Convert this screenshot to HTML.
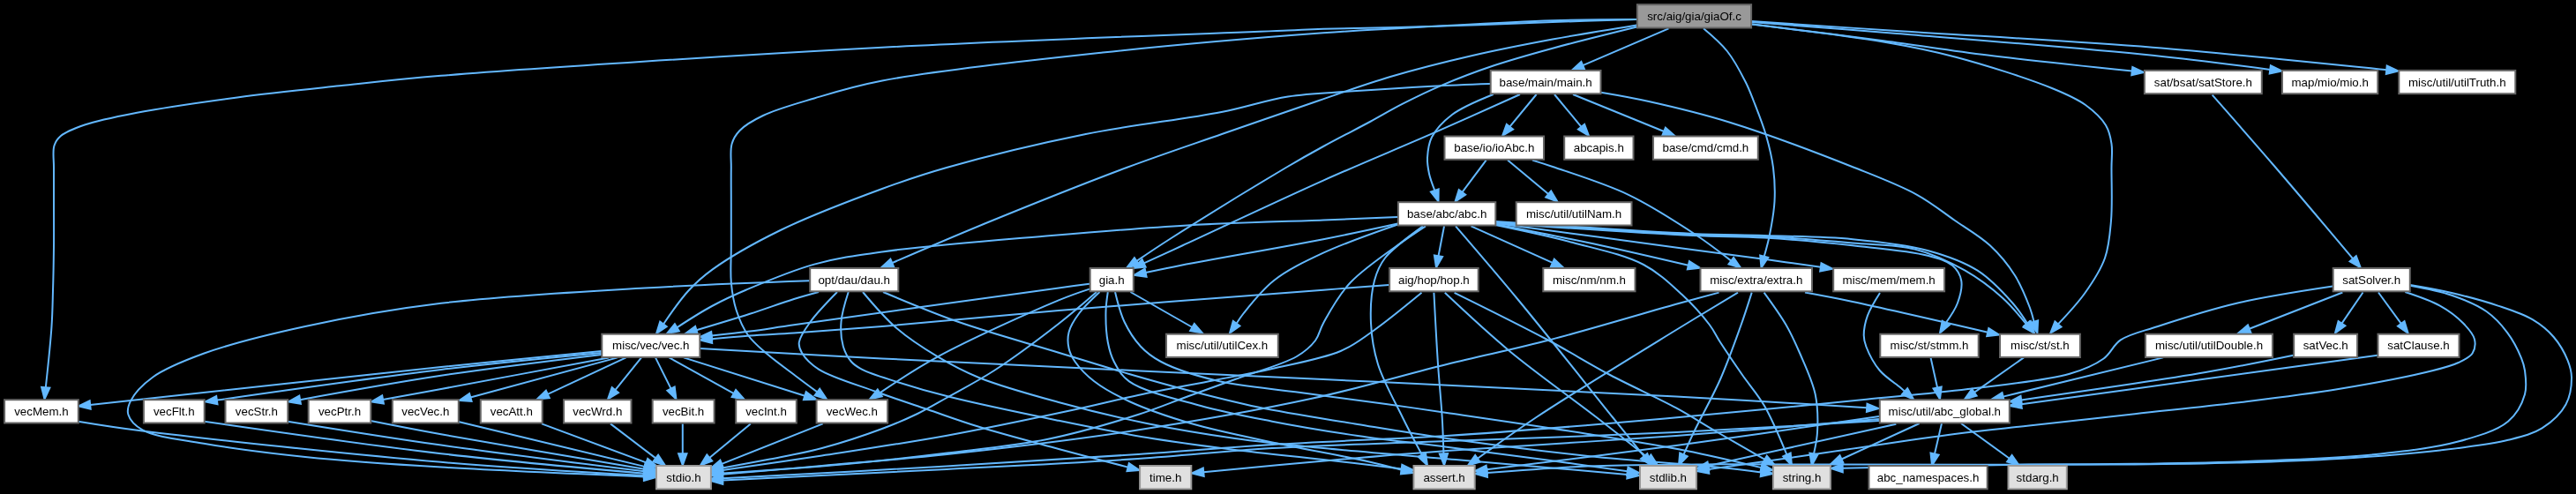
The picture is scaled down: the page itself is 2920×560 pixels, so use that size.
<!DOCTYPE html>
<html><head><meta charset="utf-8"><title>giaOf.c include graph</title>
<style>
html,body{margin:0;padding:0;background:#000;}
body{width:2920px;height:560px;overflow:hidden;}
svg{display:block;will-change:transform;}
text{font-family:"Liberation Sans",sans-serif;font-size:13.33px;fill:#000;text-anchor:middle;}
.e path{fill:none;stroke:#63b8ff;stroke-width:2;}
.e polygon{fill:#63b8ff;stroke:#63b8ff;stroke-width:2;}
.n rect{fill:#fff;stroke:#666;stroke-width:2;}
.s rect{fill:#e0e0e0;stroke:#999;stroke-width:2;}
.r rect{fill:#999;stroke:#666;stroke-width:2;}
</style></head><body>
<svg width="2920" height="560" viewBox="0 0 2920 560">
<rect width="2920" height="560" fill="#000"/>
<g class="e">
<!-- G-vecMem --><path d="M1855.4,22.0C1855.4,22.0 1794.4,23.8 1760.0,25.0C1719.6,26.4 1671.7,28.5 1628.0,29.8C1585.0,31.1 1530.6,31.7 1500.0,32.7C1482.9,33.3 1480.6,33.5 1460.0,34.4C1390.2,37.4 1156.5,45.5 1000.0,53.8C836.8,62.5 608.0,76.9 500.0,85.8C448.1,90.1 423.4,93.2 385.0,97.3C346.4,101.4 307.5,105.3 269.0,110.4C230.5,115.5 185.7,121.9 154.0,128.0C131.3,132.4 111.5,136.2 96.0,141.5C85.1,145.3 74.8,149.0 69.0,154.0C65.1,157.3 63.0,160.3 61.5,165.0C59.4,171.4 61.1,180.7 61.0,190.0C60.9,201.8 61.0,215.9 61.0,230.0C61.0,245.7 61.2,263.3 61.0,280.0C60.8,296.7 60.5,314.3 60.0,330.0C59.6,344.1 59.5,354.9 58.5,370.0C57.2,390.0 51.8,439.3 51.8,439.3"/><polygon points="50.5,452.5 47.1,438.8 56.4,439.7"/>
<!-- G-vecWec --><path d="M1855.4,22.0C1855.4,22.0 1794.4,22.2 1760.0,23.3C1719.6,24.6 1671.7,27.4 1628.0,29.8C1585.0,32.1 1549.7,33.6 1500.0,37.3C1430.5,42.4 1333.2,50.6 1250.0,59.6C1166.6,68.6 1059.2,80.1 1000.0,91.5C966.7,97.9 946.7,104.4 923.0,111.5C902.2,117.7 880.2,123.7 865.0,131.0C854.1,136.2 844.6,141.7 838.5,148.0C834.0,152.7 831.3,157.0 829.6,163.0C827.4,170.5 828.9,180.1 828.8,190.0C828.6,202.0 828.8,215.9 828.8,230.0C828.8,245.7 828.8,264.3 828.8,280.0C828.8,294.1 827.7,307.5 828.8,320.0C829.8,331.2 831.4,341.5 834.6,351.5C837.8,361.5 842.1,371.7 848.0,380.0C853.7,388.1 860.9,393.7 869.0,400.8C879.0,409.5 893.6,419.8 904.0,427.7C912.3,434.0 926.4,444.4 926.4,444.4"/><polygon points="937.0,452.4 923.6,448.2 929.2,440.7"/>
<!-- G-dau --><path d="M1855.4,28.4C1855.4,28.4 1791.4,38.7 1760.0,44.5C1729.3,50.2 1699.4,56.0 1669.0,63.0C1638.1,70.1 1605.8,78.2 1576.0,87.0C1547.9,95.3 1524.0,104.1 1495.0,114.0C1461.1,125.5 1421.5,139.3 1385.0,152.0C1348.8,164.6 1316.5,175.3 1277.0,190.0C1228.3,208.2 1162.9,234.4 1115.0,254.0C1076.5,269.8 1011.2,298.1 1011.2,298.1"/><polygon points="999.0,303.3 1009.4,293.8 1013.1,302.4"/>
<!-- G-gia --><path d="M1855.4,30.5C1855.4,30.5 1789.0,46.8 1760.0,54.7C1735.5,61.4 1714.2,67.3 1692.7,74.5C1672.5,81.3 1652.5,88.9 1634.5,96.6C1618.5,103.4 1604.0,110.5 1590.0,117.7C1577.0,124.3 1566.5,130.7 1553.0,138.0C1536.9,146.6 1516.6,156.9 1500.0,166.0C1485.0,174.2 1475.5,179.5 1457.7,190.0C1426.1,208.7 1358.2,250.5 1327.6,270.0C1310.6,280.8 1288.5,295.9 1288.5,295.9"/><polygon points="1277.4,303.3 1285.9,292.1 1291.1,299.8"/>
<!-- G-main --><path d="M1891.5,32.3L1794.2,74.2"/><polygon points="1782.0,79.5 1792.4,69.9 1796.1,78.5"/>
<!-- G-extra --><path d="M1931.0,32.3C1931.0,32.3 1950.0,48.2 1957.8,58.0C1966.0,68.3 1973.4,82.5 1978.7,93.0C1982.8,101.0 1984.7,106.6 1988.0,115.0C1992.3,126.1 1998.3,141.0 2002.0,153.8C2005.5,166.0 2008.4,177.7 2010.0,190.0C2011.6,202.6 2012.2,215.8 2011.5,228.5C2010.8,241.1 2008.2,254.9 2006.0,266.0C2004.2,275.1 1999.8,290.6 1999.8,290.6"/><polygon points="1996.5,303.5 1995.2,289.5 2004.3,291.8"/>
<!-- G-st --><path d="M1985.0,27.5C1985.0,27.5 2092.6,40.2 2135.0,47.5C2166.5,52.9 2187.9,57.0 2217.0,64.7C2251.0,73.7 2299.3,89.1 2326.0,100.0C2342.2,106.6 2353.4,111.4 2364.0,119.0C2373.3,125.7 2382.1,133.9 2387.0,142.0C2391.0,148.7 2392.4,155.5 2393.5,163.0C2394.8,171.3 2393.5,179.2 2393.5,190.0C2393.4,206.1 2394.6,231.8 2393.0,250.0C2391.7,265.4 2390.8,279.0 2386.0,292.5C2381.1,306.4 2372.3,319.6 2363.5,332.0C2354.6,344.6 2333.0,367.4 2333.0,367.4"/><polygon points="2324.3,377.5 2329.4,364.4 2336.5,370.5"/>
<!-- G-satStore --><path d="M1985.0,27.3C1985.0,27.3 2088.0,40.0 2135.0,46.2C2176.7,51.7 2210.4,57.2 2253.0,62.5C2303.1,68.7 2416.8,80.5 2416.8,80.5"/><polygon points="2430.0,82.0 2416.3,85.2 2417.3,75.9"/>
<!-- G-mio --><path d="M1985.0,25.0C1985.0,25.0 2087.3,32.8 2150.0,38.0C2233.1,44.8 2361.9,54.7 2440.0,62.8C2493.0,68.3 2573.3,78.9 2573.3,78.9"/><polygon points="2586.5,80.5 2572.7,83.5 2573.9,74.3"/>
<!-- G-utilTruth --><path d="M1985.0,24.0C1985.0,24.0 2087.3,30.9 2150.0,35.0C2233.1,40.5 2345.5,46.1 2440.0,53.7C2530.4,61.0 2705.3,79.2 2705.3,79.2"/><polygon points="2718.5,80.5 2704.8,83.9 2705.7,74.6"/>
<!-- M-ioAbc --><path d="M1741.6,107.0L1711.4,143.7"/><polygon points="1703.0,154.0 1707.8,140.8 1715.1,146.7"/>
<!-- M-abcapis --><path d="M1762.0,107.0L1792.5,143.8"/><polygon points="1801.0,154.0 1788.9,146.7 1796.1,140.8"/>
<!-- M-cmd --><path d="M1783.0,107.0L1886.2,149.0"/><polygon points="1898.5,154.0 1884.4,153.3 1887.9,144.7"/>
<!-- M-abc --><path d="M1692.7,107.0C1692.7,107.0 1658.2,120.8 1646.0,130.0C1636.1,137.5 1627.6,146.6 1623.0,155.5C1619.2,163.0 1618.4,171.5 1618.0,178.8C1617.7,185.2 1618.7,190.9 1620.0,197.0C1621.4,203.3 1626.3,215.9 1626.3,215.9"/><polygon points="1630.5,228.5 1621.9,217.4 1630.7,214.4"/>
<!-- M-gia --><path d="M1723.0,107.0C1723.0,107.0 1661.7,134.7 1627.5,149.7C1588.1,167.0 1544.8,184.6 1500.0,204.6C1449.6,227.1 1376.5,261.7 1340.0,278.5C1321.0,287.3 1296.7,298.4 1296.7,298.4"/><polygon points="1284.6,304.0 1294.7,294.2 1298.6,302.7"/>
<!-- M-vec --><path d="M1689.0,95.0C1689.0,95.0 1646.9,96.5 1623.0,97.7C1594.6,99.2 1558.8,101.5 1530.0,103.6C1505.0,105.4 1483.6,105.7 1460.0,109.4C1435.2,113.3 1414.3,121.1 1384.6,127.0C1342.5,135.3 1282.2,141.6 1230.8,152.0C1178.3,162.6 1115.4,177.9 1073.0,190.0C1043.8,198.3 1026.9,204.1 1000.0,214.0C965.7,226.6 918.7,244.3 884.6,261.0C855.8,275.1 826.4,291.9 807.7,305.4C795.6,314.1 788.8,320.4 780.0,330.0C770.1,340.8 752.0,367.5 752.0,367.5"/><polygon points="744.0,378.2 748.2,364.7 755.7,370.3"/>
<!-- M-st --><path d="M1814.7,104.7C1814.7,104.7 1848.7,110.4 1869.0,115.0C1895.5,120.9 1926.6,128.1 1960.0,138.5C2002.4,151.6 2063.0,174.5 2102.0,190.0C2129.9,201.1 2152.7,209.6 2173.0,220.8C2189.6,229.9 2202.0,240.3 2216.0,250.0C2229.6,259.4 2244.3,267.6 2255.8,278.3C2266.8,288.5 2276.4,300.2 2284.0,312.3C2291.3,323.9 2297.3,339.2 2301.0,349.0C2303.3,355.2 2305.6,364.7 2305.6,364.7"/><polygon points="2309.4,377.5 2301.2,366.1 2310.1,363.4"/>
<!-- I-abc --><path d="M1684.6,181.6L1657.5,217.9"/><polygon points="1649.5,228.5 1653.7,215.1 1661.2,220.7"/>
<!-- I-utilNam --><path d="M1709.0,181.6L1755.2,220.0"/><polygon points="1765.4,228.5 1752.2,223.6 1758.2,216.4"/>
<!-- I-extra --><path d="M1737.0,181.6C1737.0,181.6 1749.9,185.5 1760.0,189.0C1779.6,195.8 1818.8,207.8 1846.0,220.8C1872.7,233.6 1900.9,252.0 1922.0,266.0C1937.8,276.5 1962.3,295.6 1962.3,295.6"/><polygon points="1973.0,303.5 1959.5,299.4 1965.1,291.9"/>
<!-- A-hop --><path d="M1637.0,256.4L1630.5,290.2"/><polygon points="1628.0,303.3 1625.9,289.4 1635.1,291.1"/>
<!-- A-nm --><path d="M1667.5,256.4L1759.9,297.9"/><polygon points="1772.0,303.3 1758.0,302.1 1761.8,293.6"/>
<!-- A-extra --><path d="M1695.0,254.0C1695.0,254.0 1775.9,269.9 1813.8,278.0C1848.6,285.5 1913.8,300.8 1913.8,300.8"/><polygon points="1926.8,303.7 1912.8,305.3 1914.9,296.2"/>
<!-- A-mem --><path d="M1695.0,253.0C1695.0,253.0 1850.4,273.9 1906.7,281.4C1944.1,286.4 1971.8,289.9 2000.0,293.8C2023.3,297.0 2063.8,302.8 2063.8,302.8"/><polygon points="2077.0,304.7 2063.2,307.5 2064.5,298.2"/>
<!-- A-st --><path d="M1695.0,251.0C1695.0,251.0 1862.9,262.6 1919.0,265.0C1952.7,266.5 1971.6,266.1 2000.0,267.0C2031.6,268.1 2068.1,268.1 2100.0,271.2C2129.6,274.0 2159.9,277.2 2185.0,284.0C2206.2,289.8 2225.2,296.3 2241.6,306.7C2257.0,316.5 2271.3,332.2 2281.3,343.5C2288.6,351.7 2298.1,366.7 2298.1,366.7"/><polygon points="2305.9,377.5 2294.3,369.5 2301.9,364.0"/>
<!-- A-stmm --><path d="M1695.0,253.0C1695.0,253.0 1862.9,264.4 1919.0,267.0C1952.7,268.6 1971.6,267.8 2000.0,269.5C2031.6,271.4 2068.1,274.8 2100.0,278.3C2129.5,281.6 2164.5,284.3 2185.0,289.7C2197.2,292.9 2206.8,295.4 2213.3,301.0C2218.5,305.5 2222.0,311.5 2223.2,318.0C2224.6,325.4 2221.9,335.5 2219.0,343.5C2216.1,351.5 2205.7,366.0 2205.7,366.0"/><polygon points="2199.0,377.5 2201.7,363.7 2209.8,368.4"/>
<!-- A-vec --><path d="M1584.4,246.0C1584.4,246.0 1532.3,248.2 1500.0,249.5C1456.3,251.2 1397.3,252.5 1346.0,255.4C1294.6,258.3 1246.1,262.4 1192.0,267.0C1131.5,272.2 1049.5,278.5 1000.0,285.4C968.5,289.8 948.4,292.6 923.0,299.6C897.0,306.8 867.2,319.5 846.0,328.5C830.6,335.0 819.9,340.0 807.0,347.0C793.6,354.2 767.3,371.3 767.3,371.3"/><polygon points="756.0,378.2 764.9,367.3 769.8,375.2"/>
<!-- A-gia --><path d="M1584.4,253.5C1584.4,253.5 1532.6,264.8 1500.0,271.2C1455.2,280.0 1375.9,293.5 1340.0,300.5C1321.7,304.1 1298.6,309.1 1298.6,309.1"/><polygon points="1285.6,311.8 1297.7,304.5 1299.6,313.7"/>
<!-- A-utilCex --><path d="M1584.4,254.5C1584.4,254.5 1524.9,275.1 1500.0,286.7C1479.0,296.5 1459.6,305.7 1444.0,318.0C1430.1,329.0 1416.6,346.5 1409.4,355.5C1405.7,360.2 1401.6,366.7 1401.6,366.7"/><polygon points="1394.0,377.6 1397.8,364.0 1405.4,369.4"/>
<!-- A-stdio --><path d="M1616.0,256.4C1616.0,256.4 1551.2,298.7 1531.0,320.0C1516.4,335.4 1506.9,354.0 1500.0,366.4C1495.7,374.1 1495.5,380.0 1491.0,386.0C1485.9,392.7 1479.7,398.3 1470.0,404.0C1454.0,413.4 1422.0,421.9 1400.0,430.0C1380.5,437.1 1363.1,443.3 1344.7,450.0C1326.4,456.7 1311.3,463.2 1290.0,470.0C1261.2,479.2 1222.2,490.8 1186.8,498.0C1150.1,505.4 1111.3,508.8 1073.5,513.5C1035.7,518.2 999.9,522.3 960.0,526.0C915.6,530.1 819.1,536.6 819.1,536.6"/><polygon points="805.8,537.6 818.7,531.9 819.4,541.3"/>
<!-- A-assert --><path d="M1613.0,256.4C1613.0,256.4 1579.2,280.5 1570.0,292.5C1563.4,301.0 1560.7,307.9 1558.0,318.0C1554.4,331.3 1553.3,350.5 1554.0,366.4C1554.7,382.1 1557.0,396.8 1562.0,413.0C1568.0,432.1 1580.9,454.8 1589.8,473.0C1597.4,488.5 1611.9,515.7 1611.9,515.7"/><polygon points="1618.0,527.5 1607.7,517.8 1616.0,513.5"/>
<!-- A-stdlib --><path d="M1650.0,256.4C1650.0,256.4 1695.1,308.7 1721.0,340.0C1753.3,379.0 1801.9,440.6 1828.0,473.0C1843.1,491.7 1863.6,517.2 1863.6,517.2"/><polygon points="1872.0,527.5 1860.0,520.1 1867.3,514.2"/>
<!-- A-string --><path d="M1695.0,255.0C1695.0,255.0 1754.5,267.3 1783.0,275.0C1810.5,282.4 1841.2,288.6 1863.0,300.0C1880.8,309.3 1893.8,322.1 1906.7,334.0C1918.4,344.9 1930.0,357.8 1937.7,368.0C1943.2,375.3 1945.1,380.4 1950.0,388.0C1956.8,398.5 1966.6,412.9 1975.0,425.0C1983.3,436.9 1992.2,446.6 2000.0,460.0C2009.3,476.0 2025.4,515.4 2025.4,515.4"/><polygon points="2031.0,527.5 2021.2,517.4 2029.7,513.5"/>
<!-- H-vec --><path d="M1574.5,323.0C1574.5,323.0 1533.1,326.1 1500.0,328.7C1433.5,333.8 1289.9,344.5 1200.0,352.0C1126.6,358.2 1055.2,365.4 1000.0,370.0C961.0,373.2 927.6,375.6 900.0,377.5C880.5,378.8 866.1,379.3 850.0,380.5C835.1,381.6 806.7,384.3 806.7,384.3"/><polygon points="793.5,385.5 806.3,379.7 807.2,389.0"/>
<!-- H-stdio --><path d="M1611.5,331.8C1611.5,331.8 1572.6,363.9 1555.7,375.7C1542.6,384.8 1534.5,391.7 1519.6,398.0C1499.1,406.7 1466.8,412.3 1442.0,418.0C1419.4,423.2 1400.2,426.4 1377.0,431.0C1350.1,436.3 1317.9,442.1 1290.0,448.0C1264.0,453.5 1244.0,458.8 1215.0,465.0C1175.3,473.5 1120.8,485.1 1073.5,493.7C1026.3,502.3 976.3,509.6 931.7,516.4C892.0,522.5 819.0,532.9 819.0,532.9"/><polygon points="805.8,534.8 818.3,528.3 819.6,537.5"/>
<!-- H-assert --><path d="M1625.4,331.8C1625.4,331.8 1628.3,388.0 1630.0,413.0C1631.5,434.5 1633.6,454.9 1634.7,473.0C1635.6,488.0 1636.4,514.2 1636.4,514.2"/><polygon points="1637.0,527.5 1631.8,514.4 1641.1,514.0"/>
<!-- H-stdlib --><path d="M1637.8,331.8C1637.8,331.8 1683.9,375.3 1710.5,397.4C1740.5,422.3 1780.9,450.8 1809.6,473.0C1831.9,490.2 1868.5,519.3 1868.5,519.3"/><polygon points="1879.0,527.5 1865.7,523.0 1871.4,515.6"/>
<!-- H-string --><path d="M1648.6,331.8C1648.6,331.8 1722.4,368.2 1753.9,385.0C1780.1,399.0 1800.8,412.2 1825.0,425.0C1849.5,438.0 1878.1,450.5 1900.0,462.4C1917.6,472.0 1930.6,480.6 1946.8,490.0C1964.1,500.0 2000.5,520.9 2000.5,520.9"/><polygon points="2012.0,527.5 1998.1,524.9 2002.8,516.8"/>
<!-- Gi-vec --><path d="M1235.0,321.8C1235.0,321.8 1217.4,324.0 1200.0,326.4C1149.1,333.3 958.0,360.0 900.0,368.3C876.3,371.7 866.1,373.5 850.0,375.6C835.1,377.5 806.7,380.5 806.7,380.5"/><polygon points="793.5,382.0 806.2,375.9 807.2,385.1"/>
<!-- Gi-vecWec --><path d="M1235.0,327.6C1235.0,327.6 1215.3,334.0 1200.0,340.4C1169.1,353.2 1099.9,384.4 1063.0,404.4C1036.6,418.7 997.3,445.4 997.3,445.4"/><polygon points="986.0,452.4 994.8,441.4 999.8,449.3"/>
<!-- Gi-stdio --><path d="M1243.0,331.0C1243.0,331.0 1216.5,354.1 1200.0,367.0C1179.1,383.3 1149.9,405.2 1127.0,420.0C1108.0,432.3 1088.8,442.1 1073.0,451.0C1060.7,457.9 1051.7,463.4 1040.0,469.0C1027.4,475.1 1015.3,480.3 1000.0,486.0C980.4,493.3 954.0,502.1 931.7,508.0C910.8,513.6 889.6,517.1 870.0,521.0C852.2,524.5 818.9,530.6 818.9,530.6"/><polygon points="805.8,533.0 818.0,526.0 819.7,535.1"/>
<!-- Gi-assert --><path d="M1246.5,331.0C1246.5,331.0 1229.0,347.3 1223.0,355.5C1217.9,362.4 1213.4,369.4 1211.6,376.4C1210.0,382.6 1210.3,389.3 1211.6,395.0C1212.8,400.4 1215.0,404.8 1218.6,410.0C1223.5,417.0 1231.2,425.2 1240.0,432.0C1250.8,440.4 1264.4,447.8 1280.0,455.0C1299.7,464.1 1324.4,472.5 1350.0,480.0C1380.1,488.8 1416.6,495.8 1450.0,503.0C1483.3,510.2 1524.4,517.2 1550.0,523.0C1566.1,526.6 1589.1,532.8 1589.1,532.8"/><polygon points="1602.0,536.0 1588.0,537.3 1590.2,528.2"/>
<!-- Gi-stdlib --><path d="M1255.8,331.0C1255.8,331.0 1253.7,344.8 1253.5,353.0C1253.3,363.3 1253.9,377.8 1255.8,388.0C1257.4,396.3 1259.1,402.9 1262.8,410.0C1266.9,417.8 1270.7,425.7 1280.0,432.4C1296.2,444.0 1333.8,452.4 1361.0,460.0C1387.8,467.5 1413.7,472.2 1442.0,477.7C1472.8,483.7 1506.3,489.2 1539.0,494.0C1572.3,498.9 1605.6,502.4 1640.0,506.8C1675.9,511.4 1714.7,516.3 1750.0,521.0C1782.8,525.4 1844.8,534.2 1844.8,534.2"/><polygon points="1858.0,536.0 1844.2,538.8 1845.5,529.5"/>
<!-- Gi-string --><path d="M1264.0,331.0C1264.0,331.0 1269.6,354.4 1274.5,364.8C1279.3,374.9 1285.7,385.0 1293.0,392.7C1299.7,399.8 1306.0,404.7 1316.0,410.0C1331.0,418.0 1354.0,425.4 1377.0,431.0C1405.3,437.9 1441.7,440.5 1474.0,445.0C1506.3,449.5 1541.4,453.9 1571.0,458.0C1596.0,461.5 1612.2,463.9 1640.0,468.0C1682.3,474.2 1751.5,484.2 1800.0,492.0C1840.5,498.5 1876.9,504.2 1911.5,511.0C1941.8,517.0 1996.5,530.1 1996.5,530.1"/><polygon points="2009.5,533.0 1995.5,534.6 1997.5,525.5"/>
<!-- Gi-utilCex --><path d="M1281.4,331.0L1351.5,371.0"/><polygon points="1363.0,377.6 1349.1,375.1 1353.8,366.9"/>
<!-- D-stdio --><path d="M917.5,318.3C917.5,318.3 796.3,322.6 730.8,326.5C657.9,330.8 569.0,335.4 500.0,343.8C443.3,350.7 393.4,359.7 346.0,370.0C304.6,379.0 262.2,389.4 230.8,400.8C207.8,409.2 187.6,417.1 173.0,427.7C162.0,435.7 152.1,446.3 148.0,454.6C145.3,460.0 143.9,465.1 145.4,470.0C147.2,476.1 153.2,482.6 161.5,487.3C175.8,495.5 204.7,498.1 230.8,502.7C264.2,508.6 304.8,513.7 346.0,518.0C393.5,522.9 443.5,526.2 500.0,529.6C569.0,533.8 730.2,540.4 730.2,540.4"/><polygon points="743.5,541.0 730.0,545.0 730.4,535.7"/>
<!-- D-vec --><path d="M928.0,331.0C928.0,331.0 910.6,335.7 900.0,339.0C885.7,343.4 867.5,350.2 850.0,355.8C830.8,362.0 789.4,374.3 789.4,374.3"/><polygon points="776.7,378.2 788.1,369.8 790.8,378.8"/>
<!-- D-time --><path d="M949.0,331.0C949.0,331.0 926.2,354.2 918.6,364.8C912.8,372.9 906.6,381.4 905.8,388.0C905.2,392.5 906.6,395.9 909.0,400.0C912.5,406.0 919.0,412.8 928.0,418.6C942.6,428.0 971.9,436.2 993.0,444.0C1012.8,451.3 1031.6,457.4 1051.0,464.0C1070.4,470.6 1087.8,477.1 1109.5,483.8C1136.3,492.1 1170.9,501.1 1200.0,509.0C1227.1,516.3 1278.6,529.6 1278.6,529.6"/><polygon points="1291.5,533.0 1277.5,534.1 1279.8,525.1"/>
<!-- D-assert --><path d="M961.7,331.0C961.7,331.0 954.3,354.0 953.5,364.8C952.7,374.5 953.5,384.7 955.8,392.7C957.8,399.4 961.1,405.5 965.0,410.0C968.3,413.8 971.5,415.8 976.8,418.6C985.8,423.4 1001.4,427.9 1016.0,432.6C1034.0,438.4 1053.0,444.0 1077.0,450.0C1110.8,458.5 1161.1,468.8 1200.0,476.8C1235.0,484.0 1266.6,490.5 1300.0,496.0C1333.3,501.5 1366.6,505.8 1400.0,510.0C1433.3,514.2 1467.7,517.3 1500.0,521.0C1530.5,524.5 1588.8,531.4 1588.8,531.4"/><polygon points="1602.0,533.0 1588.2,536.1 1589.3,526.8"/>
<!-- D-stdlib --><path d="M978.0,331.0C978.0,331.0 1001.9,359.6 1016.0,371.8C1030.2,384.1 1047.0,394.9 1063.0,404.4C1078.2,413.5 1091.1,420.5 1109.5,428.0C1134.3,438.1 1168.9,447.5 1200.0,456.0C1232.4,464.9 1266.6,473.2 1300.0,480.0C1333.2,486.8 1366.6,492.3 1400.0,497.0C1433.3,501.7 1463.3,504.4 1500.0,508.0C1544.9,512.4 1596.7,516.4 1650.0,521.0C1710.7,526.3 1844.7,537.9 1844.7,537.9"/><polygon points="1858.0,539.0 1844.3,542.5 1845.2,533.2"/>
<!-- D-string --><path d="M1001.0,331.0C1001.0,331.0 1055.4,354.0 1086.0,364.8C1121.0,377.1 1165.4,389.1 1200.0,399.7C1229.0,408.5 1254.7,416.6 1280.0,424.0C1302.7,430.6 1322.1,436.1 1345.0,442.0C1370.5,448.6 1396.7,455.4 1426.0,461.5C1460.4,468.6 1502.4,474.9 1539.0,481.0C1573.6,486.7 1602.4,491.7 1640.0,497.0C1687.2,503.7 1747.5,511.4 1800.0,517.0C1850.8,522.4 1914.3,526.4 1950.0,530.0C1969.9,532.0 1996.3,535.4 1996.3,535.4"/><polygon points="2009.5,537.0 1995.7,540.1 1996.8,530.8"/>
<!-- X-stdio --><path d="M1948.5,331.6C1948.5,331.6 1920.4,339.1 1900.0,344.8C1865.1,354.5 1803.3,373.2 1758.0,385.0C1717.0,395.7 1681.8,402.7 1640.0,413.0C1592.3,424.7 1542.1,439.9 1487.0,451.8C1423.4,465.6 1349.1,478.4 1280.0,489.0C1211.3,499.5 1135.9,508.2 1073.5,515.0C1021.9,520.6 976.3,524.0 931.7,528.0C892.0,531.6 819.0,537.8 819.0,537.8"/><polygon points="805.8,539.0 818.6,533.2 819.5,542.5"/>
<!-- X-assert --><path d="M1970.0,331.6C1970.0,331.6 1928.0,356.8 1900.0,374.0C1857.7,400.0 1782.8,445.6 1741.5,473.0C1714.3,491.1 1674.9,519.8 1674.9,519.8"/><polygon points="1664.0,527.5 1672.2,516.0 1677.6,523.7"/>
<!-- X-stdlib --><path d="M1985.7,331.6C1985.7,331.6 1978.1,355.8 1973.0,370.0C1966.6,387.8 1958.7,410.2 1950.0,430.0C1941.1,450.2 1927.5,474.2 1920.0,490.0C1915.1,500.2 1908.5,515.4 1908.5,515.4"/><polygon points="1903.0,527.5 1904.2,513.5 1912.7,517.3"/>
<!-- X-string --><path d="M1999.6,331.6C1999.6,331.6 2017.4,356.0 2024.4,368.0C2030.7,378.8 2034.9,388.2 2040.0,400.0C2046.0,414.0 2054.4,431.4 2057.7,447.0C2060.7,461.4 2060.7,477.7 2060.0,490.0C2059.5,499.3 2056.0,514.4 2056.0,514.4"/><polygon points="2053.8,527.5 2051.4,513.6 2060.6,515.1"/>
<!-- X-st --><path d="M2046.0,331.6C2046.0,331.6 2077.5,337.3 2100.0,342.0C2138.1,350.0 2253.2,376.7 2253.2,376.7"/><polygon points="2266.2,379.6 2252.2,381.2 2254.3,372.1"/>
<!-- mem-AG --><path d="M2131.0,332.0C2131.0,332.0 2120.1,349.1 2117.0,357.6C2114.3,365.1 2112.7,373.5 2112.7,380.0C2112.7,384.9 2113.5,388.1 2115.4,393.0C2118.3,400.6 2124.3,412.3 2130.8,420.0C2137.2,427.6 2148.9,434.8 2153.8,439.0C2156.2,441.1 2159.1,443.7 2159.1,443.7"/><polygon points="2169.0,452.5 2156.0,447.2 2162.2,440.2"/>
<!-- stmm-AG --><path d="M2188.5,405.4L2196.1,439.5"/><polygon points="2199.0,452.5 2191.5,440.5 2200.7,438.5"/>
<!-- st-AG --><path d="M2294.0,405.4L2237.9,444.9"/><polygon points="2227.0,452.5 2235.2,441.0 2240.6,448.7"/>
<!-- utilDouble-AG --><path d="M2452.0,405.4L2270.6,449.6"/><polygon points="2257.7,452.7 2269.5,445.0 2271.7,454.1"/>
<!-- satVec-AG --><path d="M2599.6,402.7C2599.6,402.7 2539.4,415.2 2500.0,422.0C2443.2,431.8 2291.2,453.4 2291.2,453.4"/><polygon points="2278.0,455.4 2290.5,448.8 2291.8,458.0"/>
<!-- satClause-AG --><path d="M2695.0,402.7C2695.0,402.7 2566.1,420.5 2500.0,429.6C2431.6,439.0 2291.2,458.2 2291.2,458.2"/><polygon points="2278.0,460.0 2290.5,453.6 2291.8,462.8"/>
<!-- satStore-satSolver --><path d="M2507.7,107.7C2507.7,107.7 2554.6,160.9 2579.6,190.0C2607.5,222.4 2667.2,293.4 2667.2,293.4"/><polygon points="2675.8,303.5 2663.6,296.4 2670.8,290.3"/>
<!-- V-vecMem --><path d="M681.8,398.0C681.8,398.0 572.3,408.5 500.0,416.0C393.0,427.1 102.2,459.0 102.2,459.0"/><polygon points="89.0,460.4 101.7,454.3 102.7,463.6"/>
<!-- V-vecFlt --><path d="M681.8,400.0C681.8,400.0 565.6,411.1 500.0,419.0C422.3,428.3 245.9,453.6 245.9,453.6"/><polygon points="232.7,455.4 245.2,449.0 246.5,458.2"/>
<!-- V-vecStr --><path d="M681.8,402.0C681.8,402.0 558.6,417.0 500.0,425.8C444.9,434.1 340.1,453.2 340.1,453.2"/><polygon points="327.0,455.4 339.3,448.6 340.9,457.8"/>
<!-- V-vecPtr --><path d="M690.0,405.4C690.0,405.4 547.0,432.3 500.0,441.0C472.4,446.1 434.1,453.0 434.1,453.0"/><polygon points="421.0,455.4 433.2,448.4 434.9,457.6"/>
<!-- V-vecVec --><path d="M700.0,405.4L533.3,450.5"/><polygon points="520.5,454.0 532.1,446.0 534.6,455.0"/>
<!-- V-vecAtt --><path d="M709.6,405.4L620.8,446.9"/><polygon points="608.8,452.5 618.9,442.6 622.8,451.1"/>
<!-- V-vecWrd --><path d="M727.0,405.4L697.4,442.1"/><polygon points="689.0,452.5 693.7,439.2 701.0,445.1"/>
<!-- V-vecBit --><path d="M743.0,405.4L760.6,440.6"/><polygon points="766.5,452.5 756.4,442.7 764.7,438.5"/>
<!-- V-vecInt --><path d="M758.5,405.4L831.9,446.1"/><polygon points="843.5,452.5 829.6,450.1 834.1,442.0"/>
<!-- V-vecWec --><path d="M775.0,405.4L912.3,448.7"/><polygon points="925.0,452.7 910.9,453.2 913.7,444.2"/>
<!-- V-AG --><path d="M793.0,395.0C793.0,395.0 916.0,402.2 1000.0,406.5C1130.5,413.2 1342.6,422.5 1500.0,430.0C1640.8,436.7 1787.0,443.3 1900.0,449.4C1983.1,453.9 2116.2,462.2 2116.2,462.2"/><polygon points="2129.5,463.0 2115.9,466.9 2116.5,457.6"/>
<!-- vecMem-stdio --><path d="M88.5,477.7C88.5,477.7 128.2,484.3 161.5,488.5C233.0,497.5 397.9,515.1 500.0,523.8C584.0,531.0 730.2,539.1 730.2,539.1"/><polygon points="743.5,540.0 729.9,543.8 730.5,534.5"/>
<!-- vecFlt-stdio --><path d="M231.5,477.7C231.5,477.7 413.8,504.1 500.0,514.2C579.6,523.5 730.3,536.7 730.3,536.7"/><polygon points="743.5,538.0 729.8,541.4 730.7,532.1"/>
<!-- vecStr-stdio --><path d="M326.0,477.7C326.0,477.7 437.9,495.8 500.0,504.6C571.3,514.7 730.3,534.3 730.3,534.3"/><polygon points="743.5,536.0 729.7,538.9 730.9,529.7"/>
<!-- vecPtr-stdio --><path d="M420.0,477.0C420.0,477.0 466.4,486.2 500.0,492.3C556.9,502.6 730.4,531.8 730.4,531.8"/><polygon points="743.5,534.0 729.6,536.4 731.2,527.2"/>
<!-- vecVec-stdio --><path d="M519.5,478.0L730.6,528.9"/><polygon points="743.5,532.0 729.5,533.4 731.7,524.3"/>
<!-- vecAtt-stdio --><path d="M614.0,480.4L732.5,524.4"/><polygon points="745.0,529.0 730.9,528.8 734.2,520.0"/>
<!-- vecWrd-stdio --><path d="M692.0,480.4L743.2,519.4"/><polygon points="753.8,527.5 740.4,523.2 746.1,515.7"/>
<!-- vecBit-stdio --><path d="M773.8,480.4L773.8,514.2"/><polygon points="773.8,527.5 769.1,514.2 778.5,514.2"/>
<!-- vecInt-stdio --><path d="M850.8,480.4L804.2,519.0"/><polygon points="794.0,527.5 801.3,515.4 807.2,522.6"/>
<!-- vecWec-stdio --><path d="M932.7,480.4L818.2,525.9"/><polygon points="805.8,530.8 816.4,521.6 819.9,530.2"/>
<!-- AG-string --><path d="M2175.7,480.0L2087.5,520.5"/><polygon points="2075.4,526.0 2085.5,516.2 2089.4,524.7"/>
<!-- AG-ns --><path d="M2201.0,480.0L2193.0,514.5"/><polygon points="2190.0,527.5 2188.5,513.5 2197.6,515.6"/>
<!-- AG-stdarg --><path d="M2223.0,480.0L2277.8,519.7"/><polygon points="2288.6,527.5 2275.1,523.5 2280.6,515.9"/>
<!-- AG-stdlib --><path d="M2149.3,480.7L1936.5,528.1"/><polygon points="1923.5,531.0 1935.5,523.5 1937.5,532.7"/>
<!-- AG-assert --><path d="M2130.0,472.0C2130.0,472.0 1975.4,494.8 1900.0,505.0C1827.2,514.8 1685.2,532.3 1685.2,532.3"/><polygon points="1672.0,534.0 1684.6,527.7 1685.8,537.0"/>
<!-- AG-time --><path d="M2130.0,475.0C2130.0,475.0 1979.0,488.2 1900.0,494.0C1816.0,500.2 1712.3,505.7 1640.0,511.0C1588.2,514.8 1551.8,518.0 1506.6,522.0C1459.9,526.1 1364.2,535.3 1364.2,535.3"/><polygon points="1351.0,536.5 1363.8,530.6 1364.7,539.9"/>
<!-- AG-stdio --><path d="M2130.0,477.0C2130.0,477.0 1979.0,486.2 1900.0,490.0C1816.0,494.0 1720.8,496.8 1640.0,500.0C1569.5,502.8 1503.6,504.3 1442.0,508.0C1388.0,511.2 1345.2,516.3 1290.0,520.0C1224.1,524.4 1148.2,528.1 1073.0,532.0C991.7,536.2 819.1,544.4 819.1,544.4"/><polygon points="805.8,545.0 818.9,539.7 819.3,549.0"/>
<!-- S-utilDouble --><path d="M2655.4,331.5L2549.7,372.8"/><polygon points="2537.3,377.6 2548.0,368.4 2551.4,377.1"/>
<!-- S-satVec --><path d="M2678.5,331.5L2654.5,366.6"/><polygon points="2647.0,377.6 2650.6,364.0 2658.4,369.3"/>
<!-- S-satClause --><path d="M2696.0,331.5L2721.8,366.9"/><polygon points="2729.6,377.6 2718.0,369.6 2725.5,364.1"/>
<!-- S-stdio --><path d="M2644.2,324.6C2644.2,324.6 2569.7,335.8 2535.4,343.8C2503.9,351.2 2470.2,362.1 2446.0,370.0C2429.2,375.5 2414.5,378.2 2403.8,385.4C2395.3,391.1 2392.9,400.5 2384.6,406.5C2374.5,413.8 2362.7,418.9 2346.0,423.8C2318.2,431.9 2269.3,436.2 2230.8,441.0C2192.4,445.8 2153.9,448.9 2115.4,452.7C2076.9,456.5 2043.7,459.9 2000.0,464.0C1942.5,469.4 1863.0,476.8 1800.0,482.0C1743.7,486.6 1696.2,490.5 1640.0,494.0C1577.5,497.9 1503.6,500.2 1442.0,504.0C1388.0,507.3 1345.2,511.3 1290.0,515.0C1224.1,519.4 1148.2,524.1 1073.0,528.5C991.7,533.2 819.1,542.3 819.1,542.3"/><polygon points="805.8,543.0 818.8,537.6 819.3,546.9"/>
<!-- S-stdlib --><path d="M2726.3,331.0C2726.3,331.0 2754.4,340.2 2765.8,346.6C2775.9,352.2 2785.2,359.3 2792.0,366.3C2797.7,372.1 2803.5,378.5 2805.0,384.7C2806.2,389.9 2805.3,396.2 2802.6,400.5C2799.6,405.2 2793.1,408.0 2786.8,411.0C2778.8,414.8 2770.8,416.8 2758.0,420.0C2733.7,426.2 2687.3,435.0 2650.8,441.0C2613.1,447.2 2573.9,451.8 2535.4,456.5C2497.0,461.2 2458.8,464.9 2420.0,469.2C2380.4,473.6 2336.5,478.4 2300.0,482.5C2269.5,485.9 2247.7,487.9 2215.8,492.0C2173.8,497.4 2117.5,506.2 2070.0,513.0C2024.6,519.5 1936.7,532.1 1936.7,532.1"/><polygon points="1923.5,534.0 1936.0,527.5 1937.3,536.7"/>
<!-- S-string --><path d="M2732.0,323.7C2732.0,323.7 2764.3,329.6 2779.0,334.7C2793.0,339.5 2807.5,345.3 2818.4,353.0C2828.0,359.7 2835.4,368.0 2842.0,376.8C2848.6,385.6 2854.7,397.7 2858.0,405.8C2860.2,411.2 2861.2,414.5 2862.0,420.0C2863.0,427.5 2864.5,438.1 2862.0,447.0C2859.1,457.3 2852.9,469.4 2843.0,477.7C2830.0,488.6 2807.5,494.8 2785.4,500.8C2757.8,508.3 2722.6,511.9 2689.0,515.4C2652.4,519.2 2615.0,520.3 2573.8,522.0C2526.2,523.9 2468.1,525.1 2420.0,525.8C2377.5,526.4 2345.6,525.9 2300.0,526.5C2239.5,527.3 2088.7,530.7 2088.7,530.7"/><polygon points="2075.4,531.0 2088.6,526.1 2088.8,535.4"/>
<!-- S-assert --><path d="M2732.0,323.0C2732.0,323.0 2763.0,328.2 2779.0,332.0C2796.1,336.0 2815.5,341.1 2831.6,346.6C2845.8,351.4 2859.9,355.8 2871.0,362.4C2880.4,368.0 2888.1,374.3 2894.7,382.0C2901.3,389.7 2907.1,400.0 2910.5,408.4C2913.2,415.1 2914.9,420.5 2915.0,427.7C2915.1,436.8 2913.5,449.2 2908.5,458.5C2903.0,468.7 2892.2,478.7 2881.5,485.4C2870.5,492.3 2858.2,495.0 2843.0,498.8C2821.9,504.0 2794.3,507.1 2766.0,510.4C2731.5,514.4 2689.2,517.6 2650.8,520.0C2612.4,522.4 2573.9,523.5 2535.4,524.6C2496.9,525.7 2468.7,526.1 2420.0,526.5C2335.7,527.2 2166.8,526.5 2075.0,526.5C2014.1,526.5 1971.0,526.1 1923.0,526.5C1879.8,526.9 1840.2,526.8 1800.0,528.5C1761.2,530.1 1685.7,536.1 1685.7,536.1"/><polygon points="1672.4,537.0 1685.4,531.5 1686.0,540.8"/>
<!-- A-st2 --><path d="M1695.0,252.0C1695.0,252.0 1862.9,263.6 1919.0,266.0C1952.7,267.5 1971.6,266.6 2000.0,268.0C2031.6,269.6 2069.6,272.8 2100.0,275.5C2125.6,277.7 2148.9,277.0 2170.8,282.6C2191.2,287.8 2210.5,297.0 2227.5,306.7C2243.3,315.7 2257.9,326.9 2270.0,337.8C2280.6,347.3 2297.0,367.6 2297.0,367.6"/><polygon points="2305.9,377.5 2293.5,370.8 2300.4,364.5"/>
</g>
<g class="r"><rect x="1855.9" y="5.2" width="129.2" height="26.3"/><text x="1920.5" y="22.9">src/aig/gia/giaOf.c</text></g>
<g class="n"><rect x="1689.7" y="79.9" width="124.8" height="26.3"/><text x="1752.1" y="97.7">base/main/main.h</text></g>
<g class="n"><rect x="2430.9" y="79.9" width="132.9" height="26.3"/><text x="2497.4" y="97.7">sat/bsat/satStore.h</text></g>
<g class="n"><rect x="2587.0" y="79.9" width="108.3" height="26.3"/><text x="2641.2" y="97.7">map/mio/mio.h</text></g>
<g class="n"><rect x="2719.3" y="79.9" width="132.0" height="26.3"/><text x="2785.3" y="97.7">misc/util/utilTruth.h</text></g>
<g class="n"><rect x="1637.5" y="154.5" width="112.5" height="26.3"/><text x="1693.8" y="172.3">base/io/ioAbc.h</text></g>
<g class="n"><rect x="1773.2" y="154.5" width="78.3" height="26.3"/><text x="1812.3" y="172.3">abcapis.h</text></g>
<g class="n"><rect x="1874.0" y="154.5" width="118.8" height="26.3"/><text x="1933.4" y="172.3">base/cmd/cmd.h</text></g>
<g class="n"><rect x="1584.9" y="229.2" width="110.4" height="26.3"/><text x="1640.1" y="247.0">base/abc/abc.h</text></g>
<g class="n"><rect x="1718.7" y="229.2" width="130.8" height="26.3"/><text x="1784.1" y="247.0">misc/util/utilNam.h</text></g>
<g class="n"><rect x="918.2" y="304.0" width="100.1" height="26.3"/><text x="968.2" y="321.7">opt/dau/dau.h</text></g>
<g class="n"><rect x="1235.7" y="304.0" width="49.1" height="26.3"/><text x="1260.2" y="321.7">gia.h</text></g>
<g class="n"><rect x="1575.1" y="304.0" width="100.6" height="26.3"/><text x="1625.4" y="321.7">aig/hop/hop.h</text></g>
<g class="n"><rect x="1749.3" y="304.0" width="104.2" height="26.3"/><text x="1801.4" y="321.7">misc/nm/nm.h</text></g>
<g class="n"><rect x="1927.5" y="304.0" width="126.5" height="26.3"/><text x="1990.8" y="321.7">misc/extra/extra.h</text></g>
<g class="n"><rect x="2078.2" y="304.0" width="125.9" height="26.3"/><text x="2141.2" y="321.7">misc/mem/mem.h</text></g>
<g class="n"><rect x="2644.7" y="304.0" width="87.1" height="26.3"/><text x="2688.2" y="321.7">satSolver.h</text></g>
<g class="n"><rect x="682.3" y="378.7" width="111.0" height="26.3"/><text x="737.8" y="396.4">misc/vec/vec.h</text></g>
<g class="n"><rect x="1322.0" y="378.7" width="126.8" height="26.3"/><text x="1385.4" y="396.4">misc/util/utilCex.h</text></g>
<g class="n"><rect x="2131.3" y="378.7" width="111.4" height="26.3"/><text x="2187.0" y="396.4">misc/st/stmm.h</text></g>
<g class="n"><rect x="2267.0" y="378.7" width="90.9" height="26.3"/><text x="2312.4" y="396.4">misc/st/st.h</text></g>
<g class="n"><rect x="2432.0" y="378.7" width="144.0" height="26.3"/><text x="2504.0" y="396.4">misc/util/utilDouble.h</text></g>
<g class="n"><rect x="2600.2" y="378.7" width="71.9" height="26.3"/><text x="2636.2" y="396.4">satVec.h</text></g>
<g class="n"><rect x="2695.5" y="378.7" width="92.0" height="26.3"/><text x="2741.5" y="396.4">satClause.h</text></g>
<g class="n"><rect x="5.1" y="453.2" width="83.7" height="26.3"/><text x="46.9" y="471.0">vecMem.h</text></g>
<g class="n"><rect x="162.9" y="453.2" width="68.8" height="26.3"/><text x="197.3" y="471.0">vecFlt.h</text></g>
<g class="n"><rect x="255.5" y="453.2" width="70.8" height="26.3"/><text x="290.9" y="471.0">vecStr.h</text></g>
<g class="n"><rect x="349.7" y="453.2" width="70.6" height="26.3"/><text x="385.0" y="471.0">vecPtr.h</text></g>
<g class="n"><rect x="444.9" y="453.2" width="74.9" height="26.3"/><text x="482.3" y="471.0">vecVec.h</text></g>
<g class="n"><rect x="544.8" y="453.2" width="69.9" height="26.3"/><text x="579.8" y="471.0">vecAtt.h</text></g>
<g class="n"><rect x="639.1" y="453.2" width="76.4" height="26.3"/><text x="677.3" y="471.0">vecWrd.h</text></g>
<g class="n"><rect x="739.7" y="453.2" width="69.9" height="26.3"/><text x="774.6" y="471.0">vecBit.h</text></g>
<g class="n"><rect x="834.2" y="453.2" width="68.6" height="26.3"/><text x="868.5" y="471.0">vecInt.h</text></g>
<g class="n"><rect x="925.6" y="453.2" width="80.5" height="26.3"/><text x="965.8" y="471.0">vecWec.h</text></g>
<g class="n"><rect x="2130.8" y="453.2" width="147.0" height="26.3"/><text x="2204.3" y="471.0">misc/util/abc_global.h</text></g>
<g class="s"><rect x="744.0" y="528.0" width="61.9" height="26.3"/><text x="775.0" y="545.7">stdio.h</text></g>
<g class="s"><rect x="1292.1" y="528.0" width="58.2" height="26.3"/><text x="1321.2" y="545.7">time.h</text></g>
<g class="s"><rect x="1602.5" y="528.0" width="69.2" height="26.3"/><text x="1637.1" y="545.7">assert.h</text></g>
<g class="s"><rect x="1859.0" y="528.0" width="63.9" height="26.3"/><text x="1890.9" y="545.7">stdlib.h</text></g>
<g class="s"><rect x="2010.0" y="528.0" width="64.9" height="26.3"/><text x="2042.5" y="545.7">string.h</text></g>
<g class="n"><rect x="2118.5" y="528.0" width="134.2" height="26.3"/><text x="2185.6" y="545.7">abc_namespaces.h</text></g>
<g class="s"><rect x="2276.5" y="528.0" width="66.3" height="26.3"/><text x="2309.7" y="545.7">stdarg.h</text></g>
</svg>
</body></html>
